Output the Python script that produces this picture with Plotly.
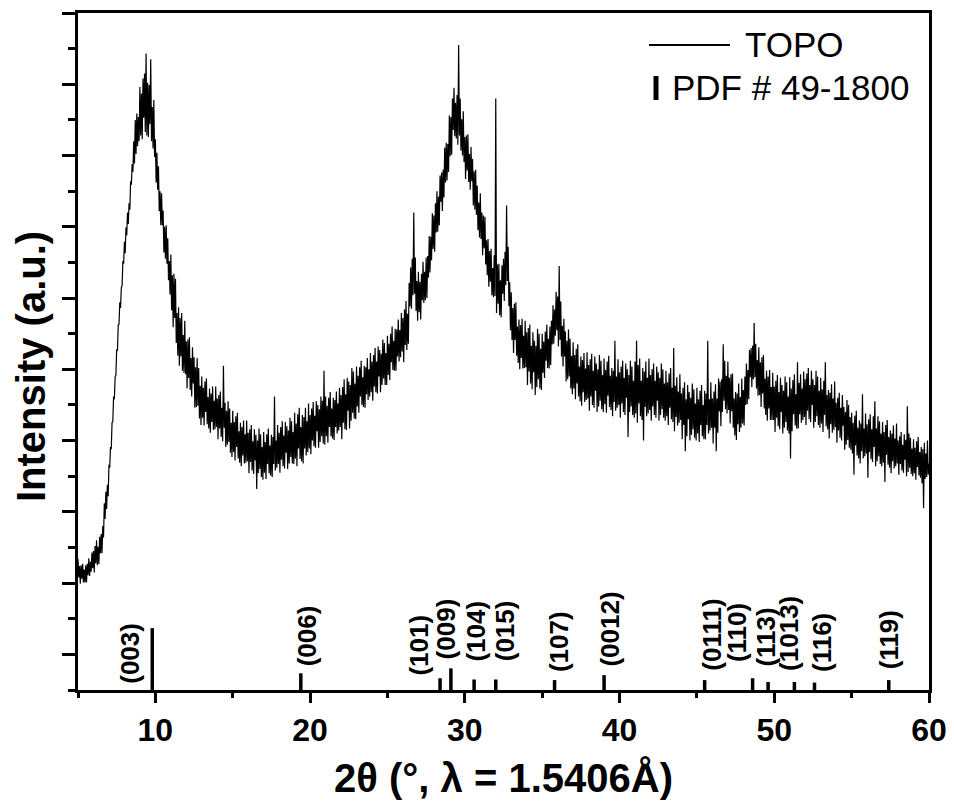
import plotly.graph_objects as go

# ---------------- data ----------------
two_theta = [
    5.00, 5.05, 5.10, 5.15, 5.20, 5.25, 5.30, 5.35, 5.40, 5.45, 5.50, 5.55, 5.60, 5.65, 5.70, 5.75, 5.80, 5.85, 5.90, 5.95,
    6.00, 6.05, 6.10, 6.15, 6.20, 6.25, 6.30, 6.35, 6.40, 6.45, 6.50, 6.55, 6.60, 6.65, 6.70, 6.75, 6.80, 6.85, 6.90, 6.95,
    7.00, 7.05, 7.10, 7.15, 7.20, 7.25, 7.30, 7.35, 7.40, 7.45, 7.50, 7.55, 7.60, 7.65, 7.70, 7.75, 7.80, 7.85, 7.90, 7.95,
    8.00, 8.05, 8.10, 8.15, 8.20, 8.25, 8.30, 8.35, 8.40, 8.45, 8.50, 8.55, 8.60, 8.65, 8.70, 8.75, 8.80, 8.85, 8.90, 8.95,
    9.00, 9.05, 9.10, 9.15, 9.20, 9.25, 9.30, 9.35, 9.40, 9.45, 9.50, 9.55, 9.60, 9.65, 9.70, 9.75, 9.80, 9.85, 9.90, 9.95,
    10.00, 10.05, 10.10, 10.15, 10.20, 10.25, 10.30, 10.35, 10.40, 10.45, 10.50, 10.55, 10.60, 10.65, 10.70, 10.75, 10.80, 10.85, 10.90, 10.95,
    11.00, 11.05, 11.10, 11.15, 11.20, 11.25, 11.30, 11.35, 11.40, 11.45, 11.50, 11.55, 11.60, 11.65, 11.70, 11.75, 11.80, 11.85, 11.90, 11.95,
    12.00, 12.05, 12.10, 12.15, 12.20, 12.25, 12.30, 12.35, 12.40, 12.45, 12.50, 12.55, 12.60, 12.65, 12.70, 12.75, 12.80, 12.85, 12.90, 12.95,
    13.00, 13.05, 13.10, 13.15, 13.20, 13.25, 13.30, 13.35, 13.40, 13.45, 13.50, 13.55, 13.60, 13.65, 13.70, 13.75, 13.80, 13.85, 13.90, 13.95,
    14.00, 14.05, 14.10, 14.15, 14.20, 14.25, 14.30, 14.35, 14.40, 14.45, 14.50, 14.55, 14.60, 14.65, 14.70, 14.75, 14.80, 14.85, 14.90, 14.95,
    15.00, 15.05, 15.10, 15.15, 15.20, 15.25, 15.30, 15.35, 15.40, 15.45, 15.50, 15.55, 15.60, 15.65, 15.70, 15.75, 15.80, 15.85, 15.90, 15.95,
    16.00, 16.05, 16.10, 16.15, 16.20, 16.25, 16.30, 16.35, 16.40, 16.45, 16.50, 16.55, 16.60, 16.65, 16.70, 16.75, 16.80, 16.85, 16.90, 16.95,
    17.00, 17.05, 17.10, 17.15, 17.20, 17.25, 17.30, 17.35, 17.40, 17.45, 17.50, 17.55, 17.60, 17.65, 17.70, 17.75, 17.80, 17.85, 17.90, 17.95,
    18.00, 18.05, 18.10, 18.15, 18.20, 18.25, 18.30, 18.35, 18.40, 18.45, 18.50, 18.55, 18.60, 18.65, 18.70, 18.75, 18.80, 18.85, 18.90, 18.95,
    19.00, 19.05, 19.10, 19.15, 19.20, 19.25, 19.30, 19.35, 19.40, 19.45, 19.50, 19.55, 19.60, 19.65, 19.70, 19.75, 19.80, 19.85, 19.90, 19.95,
    20.00, 20.05, 20.10, 20.15, 20.20, 20.25, 20.30, 20.35, 20.40, 20.45, 20.50, 20.55, 20.60, 20.65, 20.70, 20.75, 20.80, 20.85, 20.90, 20.95,
    21.00, 21.05, 21.10, 21.15, 21.20, 21.25, 21.30, 21.35, 21.40, 21.45, 21.50, 21.55, 21.60, 21.65, 21.70, 21.75, 21.80, 21.85, 21.90, 21.95,
    22.00, 22.05, 22.10, 22.15, 22.20, 22.25, 22.30, 22.35, 22.40, 22.45, 22.50, 22.55, 22.60, 22.65, 22.70, 22.75, 22.80, 22.85, 22.90, 22.95,
    23.00, 23.05, 23.10, 23.15, 23.20, 23.25, 23.30, 23.35, 23.40, 23.45, 23.50, 23.55, 23.60, 23.65, 23.70, 23.75, 23.80, 23.85, 23.90, 23.95,
    24.00, 24.05, 24.10, 24.15, 24.20, 24.25, 24.30, 24.35, 24.40, 24.45, 24.50, 24.55, 24.60, 24.65, 24.70, 24.75, 24.80, 24.85, 24.90, 24.95,
    25.00, 25.05, 25.10, 25.15, 25.20, 25.25, 25.30, 25.35, 25.40, 25.45, 25.50, 25.55, 25.60, 25.65, 25.70, 25.75, 25.80, 25.85, 25.90, 25.95,
    26.00, 26.05, 26.10, 26.15, 26.20, 26.25, 26.30, 26.35, 26.40, 26.45, 26.50, 26.55, 26.60, 26.65, 26.70, 26.75, 26.80, 26.85, 26.90, 26.95,
    27.00, 27.05, 27.10, 27.15, 27.20, 27.25, 27.30, 27.35, 27.40, 27.45, 27.50, 27.55, 27.60, 27.65, 27.70, 27.75, 27.80, 27.85, 27.90, 27.95,
    28.00, 28.05, 28.10, 28.15, 28.20, 28.25, 28.30, 28.35, 28.40, 28.45, 28.50, 28.55, 28.60, 28.65, 28.70, 28.75, 28.80, 28.85, 28.90, 28.95,
    29.00, 29.05, 29.10, 29.15, 29.20, 29.25, 29.30, 29.35, 29.40, 29.45, 29.50, 29.55, 29.60, 29.65, 29.70, 29.75, 29.80, 29.85, 29.90, 29.95,
    30.00, 30.05, 30.10, 30.15, 30.20, 30.25, 30.30, 30.35, 30.40, 30.45, 30.50, 30.55, 30.60, 30.65, 30.70, 30.75, 30.80, 30.85, 30.90, 30.95,
    31.00, 31.05, 31.10, 31.15, 31.20, 31.25, 31.30, 31.35, 31.40, 31.45, 31.50, 31.55, 31.60, 31.65, 31.70, 31.75, 31.80, 31.85, 31.90, 31.95,
    32.00, 32.05, 32.10, 32.15, 32.20, 32.25, 32.30, 32.35, 32.40, 32.45, 32.50, 32.55, 32.60, 32.65, 32.70, 32.75, 32.80, 32.85, 32.90, 32.95,
    33.00, 33.05, 33.10, 33.15, 33.20, 33.25, 33.30, 33.35, 33.40, 33.45, 33.50, 33.55, 33.60, 33.65, 33.70, 33.75, 33.80, 33.85, 33.90, 33.95,
    34.00, 34.05, 34.10, 34.15, 34.20, 34.25, 34.30, 34.35, 34.40, 34.45, 34.50, 34.55, 34.60, 34.65, 34.70, 34.75, 34.80, 34.85, 34.90, 34.95,
    35.00, 35.05, 35.10, 35.15, 35.20, 35.25, 35.30, 35.35, 35.40, 35.45, 35.50, 35.55, 35.60, 35.65, 35.70, 35.75, 35.80, 35.85, 35.90, 35.95,
    36.00, 36.05, 36.10, 36.15, 36.20, 36.25, 36.30, 36.35, 36.40, 36.45, 36.50, 36.55, 36.60, 36.65, 36.70, 36.75, 36.80, 36.85, 36.90, 36.95,
    37.00, 37.05, 37.10, 37.15, 37.20, 37.25, 37.30, 37.35, 37.40, 37.45, 37.50, 37.55, 37.60, 37.65, 37.70, 37.75, 37.80, 37.85, 37.90, 37.95,
    38.00, 38.05, 38.10, 38.15, 38.20, 38.25, 38.30, 38.35, 38.40, 38.45, 38.50, 38.55, 38.60, 38.65, 38.70, 38.75, 38.80, 38.85, 38.90, 38.95,
    39.00, 39.05, 39.10, 39.15, 39.20, 39.25, 39.30, 39.35, 39.40, 39.45, 39.50, 39.55, 39.60, 39.65, 39.70, 39.75, 39.80, 39.85, 39.90, 39.95,
    40.00, 40.05, 40.10, 40.15, 40.20, 40.25, 40.30, 40.35, 40.40, 40.45, 40.50, 40.55, 40.60, 40.65, 40.70, 40.75, 40.80, 40.85, 40.90, 40.95,
    41.00, 41.05, 41.10, 41.15, 41.20, 41.25, 41.30, 41.35, 41.40, 41.45, 41.50, 41.55, 41.60, 41.65, 41.70, 41.75, 41.80, 41.85, 41.90, 41.95,
    42.00, 42.05, 42.10, 42.15, 42.20, 42.25, 42.30, 42.35, 42.40, 42.45, 42.50, 42.55, 42.60, 42.65, 42.70, 42.75, 42.80, 42.85, 42.90, 42.95,
    43.00, 43.05, 43.10, 43.15, 43.20, 43.25, 43.30, 43.35, 43.40, 43.45, 43.50, 43.55, 43.60, 43.65, 43.70, 43.75, 43.80, 43.85, 43.90, 43.95,
    44.00, 44.05, 44.10, 44.15, 44.20, 44.25, 44.30, 44.35, 44.40, 44.45, 44.50, 44.55, 44.60, 44.65, 44.70, 44.75, 44.80, 44.85, 44.90, 44.95,
    45.00, 45.05, 45.10, 45.15, 45.20, 45.25, 45.30, 45.35, 45.40, 45.45, 45.50, 45.55, 45.60, 45.65, 45.70, 45.75, 45.80, 45.85, 45.90, 45.95,
    46.00, 46.05, 46.10, 46.15, 46.20, 46.25, 46.30, 46.35, 46.40, 46.45, 46.50, 46.55, 46.60, 46.65, 46.70, 46.75, 46.80, 46.85, 46.90, 46.95,
    47.00, 47.05, 47.10, 47.15, 47.20, 47.25, 47.30, 47.35, 47.40, 47.45, 47.50, 47.55, 47.60, 47.65, 47.70, 47.75, 47.80, 47.85, 47.90, 47.95,
    48.00, 48.05, 48.10, 48.15, 48.20, 48.25, 48.30, 48.35, 48.40, 48.45, 48.50, 48.55, 48.60, 48.65, 48.70, 48.75, 48.80, 48.85, 48.90, 48.95,
    49.00, 49.05, 49.10, 49.15, 49.20, 49.25, 49.30, 49.35, 49.40, 49.45, 49.50, 49.55, 49.60, 49.65, 49.70, 49.75, 49.80, 49.85, 49.90, 49.95,
    50.00, 50.05, 50.10, 50.15, 50.20, 50.25, 50.30, 50.35, 50.40, 50.45, 50.50, 50.55, 50.60, 50.65, 50.70, 50.75, 50.80, 50.85, 50.90, 50.95,
    51.00, 51.05, 51.10, 51.15, 51.20, 51.25, 51.30, 51.35, 51.40, 51.45, 51.50, 51.55, 51.60, 51.65, 51.70, 51.75, 51.80, 51.85, 51.90, 51.95,
    52.00, 52.05, 52.10, 52.15, 52.20, 52.25, 52.30, 52.35, 52.40, 52.45, 52.50, 52.55, 52.60, 52.65, 52.70, 52.75, 52.80, 52.85, 52.90, 52.95,
    53.00, 53.05, 53.10, 53.15, 53.20, 53.25, 53.30, 53.35, 53.40, 53.45, 53.50, 53.55, 53.60, 53.65, 53.70, 53.75, 53.80, 53.85, 53.90, 53.95,
    54.00, 54.05, 54.10, 54.15, 54.20, 54.25, 54.30, 54.35, 54.40, 54.45, 54.50, 54.55, 54.60, 54.65, 54.70, 54.75, 54.80, 54.85, 54.90, 54.95,
    55.00, 55.05, 55.10, 55.15, 55.20, 55.25, 55.30, 55.35, 55.40, 55.45, 55.50, 55.55, 55.60, 55.65, 55.70, 55.75, 55.80, 55.85, 55.90, 55.95,
    56.00, 56.05, 56.10, 56.15, 56.20, 56.25, 56.30, 56.35, 56.40, 56.45, 56.50, 56.55, 56.60, 56.65, 56.70, 56.75, 56.80, 56.85, 56.90, 56.95,
    57.00, 57.05, 57.10, 57.15, 57.20, 57.25, 57.30, 57.35, 57.40, 57.45, 57.50, 57.55, 57.60, 57.65, 57.70, 57.75, 57.80, 57.85, 57.90, 57.95,
    58.00, 58.05, 58.10, 58.15, 58.20, 58.25, 58.30, 58.35, 58.40, 58.45, 58.50, 58.55, 58.60, 58.65, 58.70, 58.75, 58.80, 58.85, 58.90, 58.95,
    59.00, 59.05, 59.10, 59.15, 59.20, 59.25, 59.30, 59.35, 59.40, 59.45, 59.50, 59.55, 59.60, 59.65, 59.70, 59.75, 59.80, 59.85, 59.90, 59.95,
    60.00,
]

topo_intensity = [
    1.34, 1.08, 1.24, 0.99, 1.25, 1.06, 1.27, 1.01, 1.19, 1.01, 1.25, 1.01, 1.27, 1.11, 1.35, 1.10, 1.30, 1.16, 1.43, 1.21,
    1.45, 1.15, 1.52, 1.28, 1.60, 1.25, 1.51, 1.27, 1.65, 1.42, 1.69, 1.42, 1.80, 1.64, 2.12, 1.90, 2.28, 2.04, 2.38, 2.22,
    2.66, 2.62, 2.91, 2.88, 3.25, 3.27, 3.62, 3.58, 3.89, 3.92, 4.28, 4.26, 4.62, 4.63, 4.94, 4.86, 5.15, 5.17, 5.52, 5.48,
    5.79, 5.63, 5.99, 5.88, 6.20, 6.04, 6.33, 6.24, 6.64, 6.59, 6.88, 6.77, 7.20, 6.89, 7.50, 7.02, 7.59, 7.13, 7.54, 7.20,
    7.96, 7.28, 7.87, 7.23, 8.08, 7.53, 8.15, 7.33, 8.43, 7.28, 8.02, 7.26, 7.99, 7.44, 8.35, 7.20, 7.68, 7.10, 7.78, 6.98,
    7.23, 6.62, 7.04, 6.52, 6.85, 6.22, 6.50, 6.02, 6.47, 6.02, 6.23, 5.64, 6.00, 5.55, 6.02, 5.48, 5.84, 5.25, 5.52, 5.05,
    5.61, 4.83, 5.32, 4.59, 5.34, 4.72, 5.27, 4.37, 4.79, 4.19, 4.87, 4.05, 4.72, 4.18, 4.79, 3.98, 4.48, 3.95, 4.68, 3.93,
    4.39, 3.73, 4.42, 3.88, 4.45, 3.71, 4.16, 3.62, 4.31, 3.80, 4.17, 3.46, 4.03, 3.47, 4.16, 3.49, 4.02, 3.31, 3.77, 3.22,
    3.90, 3.32, 3.74, 3.21, 3.83, 3.40, 3.87, 3.23, 3.61, 3.17, 3.73, 3.11, 3.66, 3.26, 3.76, 3.15, 3.56, 3.16, 3.76, 3.19,
    3.59, 3.02, 3.64, 3.17, 3.69, 3.05, 3.46, 2.99, 4.05, 3.18, 3.53, 2.91, 3.42, 2.94, 3.55, 2.98, 3.45, 2.83, 3.25, 2.77,
    3.42, 2.84, 3.26, 2.72, 3.34, 2.91, 3.39, 2.75, 3.13, 2.69, 3.25, 2.64, 3.19, 2.79, 3.28, 2.68, 3.09, 2.69, 3.28, 2.71,
    3.11, 2.54, 3.16, 2.70, 3.22, 2.58, 2.99, 2.53, 3.16, 2.72, 3.08, 2.32, 3.00, 2.54, 3.17, 2.60, 3.09, 2.49, 2.91, 2.45,
    3.12, 2.55, 2.98, 2.46, 3.09, 2.67, 3.17, 2.54, 2.93, 2.51, 3.08, 2.49, 3.05, 2.67, 3.62, 2.58, 3.00, 2.62, 3.22, 2.67,
    3.11, 2.55, 3.19, 2.73, 3.27, 2.64, 3.07, 2.61, 3.26, 2.83, 3.20, 2.60, 3.14, 2.68, 3.32, 2.77, 3.27, 2.68, 3.12, 2.67,
    3.39, 2.75, 3.24, 2.64, 3.37, 2.89, 3.46, 2.74, 3.19, 2.71, 3.36, 2.68, 3.33, 2.89, 3.46, 2.79, 3.27, 2.84, 3.52, 2.89,
    3.36, 2.81, 3.45, 3.00, 3.54, 2.92, 3.35, 2.90, 3.55, 3.13, 3.50, 2.90, 3.44, 2.98, 3.62, 3.06, 3.56, 2.96, 3.98, 2.94,
    3.62, 3.06, 3.49, 2.97, 3.60, 3.19, 3.68, 3.06, 3.45, 3.03, 3.60, 3.01, 3.57, 3.19, 3.69, 3.10, 3.52, 3.14, 3.74, 3.19,
    3.64, 3.02, 3.75, 3.25, 3.86, 3.16, 3.65, 3.15, 3.88, 3.42, 3.83, 3.17, 3.78, 3.28, 4.02, 3.39, 3.97, 3.31, 3.80, 3.30,
    4.04, 3.48, 3.91, 3.39, 4.03, 3.62, 4.12, 3.50, 3.89, 3.47, 4.05, 3.46, 4.03, 3.65, 4.16, 3.57, 4.00, 3.62, 4.23, 3.68,
    4.11, 3.56, 4.20, 3.76, 4.30, 3.68, 4.11, 3.66, 4.32, 3.90, 4.27, 3.68, 4.22, 3.78, 4.42, 3.87, 4.37, 3.78, 4.23, 3.78,
    4.47, 3.92, 4.36, 3.85, 4.50, 4.10, 4.60, 3.99, 4.40, 3.98, 4.57, 3.98, 4.56, 4.18, 4.70, 4.11, 4.55, 4.17, 4.79, 4.25,
    4.72, 4.10, 4.84, 4.34, 4.96, 4.27, 4.78, 4.36, 5.21, 4.88, 5.43, 4.85, 5.55, 5.04, 6.20, 5.06, 5.57, 4.82, 5.24, 4.68,
    5.37, 4.80, 5.23, 4.70, 5.34, 4.97, 5.51, 4.93, 5.37, 4.97, 5.57, 5.00, 5.59, 5.29, 5.87, 5.36, 5.86, 5.53, 6.19, 5.69,
    6.16, 5.65, 6.33, 5.92, 6.50, 5.93, 6.42, 6.02, 6.72, 6.35, 6.76, 6.22, 6.80, 6.41, 7.11, 6.62, 7.18, 6.65, 7.16, 6.77,
    7.56, 6.99, 7.54, 7.01, 7.80, 7.36, 7.95, 7.27, 7.74, 7.24, 7.85, 7.15, 8.55, 7.28, 7.80, 7.07, 7.51, 7.00, 7.62, 6.91,
    7.26, 6.67, 7.28, 6.79, 7.30, 6.63, 7.02, 6.52, 7.12, 6.64, 6.95, 6.30, 6.78, 6.24, 6.80, 6.17, 6.58, 5.95, 6.34, 5.85,
    6.47, 5.83, 6.20, 5.60, 6.16, 5.70, 6.14, 5.47, 5.81, 5.32, 5.83, 5.16, 5.66, 5.23, 5.69, 5.04, 5.42, 5.01, 5.60, 5.03,
    7.80, 4.79, 5.47, 4.92, 5.48, 4.76, 5.25, 4.73, 5.46, 5.06, 5.55, 4.96, 5.65, 5.18, 6.30, 5.24, 5.72, 4.89, 5.22, 4.55,
    5.08, 4.41, 4.86, 4.23, 4.92, 4.41, 4.94, 4.19, 4.60, 4.09, 4.70, 4.00, 4.62, 4.16, 4.71, 4.01, 4.47, 4.02, 4.68, 4.03,
    4.52, 3.78, 4.58, 3.97, 4.63, 3.80, 4.33, 3.72, 4.52, 3.96, 4.40, 3.64, 4.33, 3.75, 4.57, 3.86, 4.50, 3.73, 4.29, 3.71,
    4.50, 3.95, 4.39, 3.88, 4.53, 4.12, 4.63, 4.02, 4.43, 4.01, 4.60, 4.06, 4.68, 4.35, 4.90, 4.36, 4.84, 4.47, 5.09, 4.55,
    5.02, 4.32, 5.45, 4.41, 4.95, 4.18, 4.61, 4.04, 4.71, 4.18, 4.53, 3.83, 4.40, 3.86, 4.56, 3.90, 4.43, 3.73, 4.19, 3.65,
    4.38, 3.73, 4.20, 3.58, 4.29, 3.80, 4.35, 3.62, 4.04, 3.55, 4.18, 3.49, 4.13, 3.68, 4.23, 3.54, 4.01, 3.57, 4.24, 3.59,
    4.06, 3.42, 4.14, 3.62, 4.22, 3.50, 3.98, 3.46, 4.18, 3.70, 4.08, 3.40, 4.00, 3.48, 4.20, 3.56, 4.12, 3.44, 3.92, 3.40,
    4.15, 3.51, 3.99, 3.39, 4.11, 3.63, 4.19, 3.47, 3.91, 3.43, 4.02, 3.34, 3.98, 3.54, 4.40, 3.42, 3.90, 3.46, 4.14, 3.50,
    3.96, 3.32, 4.04, 3.52, 4.12, 3.40, 3.88, 3.36, 4.08, 3.60, 4.00, 3.05, 3.92, 3.40, 4.12, 3.48, 4.04, 3.36, 3.84, 3.32,
    4.11, 3.38, 4.40, 3.25, 4.06, 3.52, 4.15, 3.34, 3.84, 3.29, 4.02, 3.00, 3.97, 3.47, 4.11, 3.34, 3.88, 3.38, 4.15, 3.43,
    3.92, 3.28, 4.00, 3.48, 4.08, 3.36, 3.84, 3.32, 4.04, 3.56, 3.96, 3.28, 3.88, 3.36, 4.08, 3.44, 4.00, 3.32, 3.80, 3.28,
    3.98, 3.34, 3.82, 3.22, 3.94, 3.46, 4.02, 3.30, 3.74, 3.26, 4.30, 3.13, 3.77, 3.33, 3.89, 3.21, 3.69, 3.25, 3.93, 3.29,
    3.66, 3.02, 3.74, 3.22, 3.82, 2.85, 3.58, 3.06, 3.78, 3.30, 3.68, 3.00, 3.60, 3.08, 3.80, 3.16, 3.72, 3.04, 3.52, 3.00,
    3.74, 3.10, 3.58, 2.98, 3.70, 3.22, 3.78, 3.06, 3.50, 3.02, 3.70, 3.02, 3.66, 3.22, 4.40, 3.10, 3.58, 3.14, 3.82, 3.18,
    3.59, 2.96, 3.69, 3.18, 3.79, 2.85, 3.59, 3.11, 3.87, 3.41, 3.83, 3.20, 3.86, 3.40, 4.35, 3.56, 4.12, 3.44, 3.91, 3.38,
    4.11, 3.43, 3.88, 3.24, 3.93, 3.41, 3.94, 3.18, 3.59, 3.07, 3.68, 3.01, 3.66, 3.23, 3.80, 3.12, 3.61, 3.18, 3.87, 3.24,
    3.71, 3.21, 3.90, 3.50, 4.08, 3.51, 3.99, 3.58, 4.27, 3.89, 4.30, 3.75, 4.33, 3.86, 4.65, 3.89, 4.36, 3.73, 4.13, 3.63,
    4.31, 3.64, 4.10, 3.47, 4.17, 3.66, 4.20, 3.45, 3.87, 3.36, 3.98, 3.28, 3.90, 3.45, 3.99, 3.29, 3.75, 3.29, 3.95, 3.29,
    3.76, 3.12, 3.84, 3.32, 3.92, 3.20, 3.68, 3.16, 3.88, 3.40, 3.78, 3.10, 3.70, 3.18, 3.90, 3.26, 3.82, 3.14, 3.62, 3.10,
    3.89, 2.75, 3.73, 3.13, 3.85, 3.37, 3.93, 3.21, 3.65, 3.17, 4.10, 3.17, 3.81, 3.37, 3.93, 3.25, 3.73, 3.29, 3.97, 3.33,
    3.86, 3.22, 3.94, 3.42, 4.02, 3.30, 3.78, 3.26, 3.98, 3.50, 3.86, 3.18, 3.78, 3.26, 3.98, 3.34, 3.90, 3.22, 3.70, 3.18,
    3.88, 3.24, 3.72, 3.12, 3.84, 3.36, 4.10, 3.20, 3.64, 3.16, 3.71, 3.03, 3.67, 3.23, 3.79, 3.11, 3.59, 3.15, 3.83, 3.19,
    3.53, 2.97, 3.60, 3.14, 3.67, 3.04, 3.46, 3.00, 3.64, 3.21, 3.47, 2.87, 3.40, 2.94, 3.57, 3.01, 3.50, 2.90, 3.33, 2.87,
    3.39, 2.82, 3.25, 2.52, 3.35, 2.93, 3.42, 2.79, 3.18, 2.75, 3.28, 2.68, 3.24, 2.85, 3.65, 2.75, 3.17, 2.78, 3.38, 2.82,
    3.23, 2.48, 3.30, 2.84, 3.37, 2.74, 3.16, 2.70, 3.34, 2.91, 3.55, 2.64, 3.17, 2.71, 3.34, 2.78, 3.27, 2.67, 3.10, 2.64,
    3.26, 2.69, 3.12, 2.42, 3.22, 2.80, 3.29, 2.66, 3.05, 2.62, 3.14, 2.54, 3.10, 2.71, 3.21, 2.61, 3.03, 2.64, 3.24, 2.68,
    3.00, 2.52, 3.06, 2.67, 3.12, 2.58, 2.94, 2.55, 3.09, 2.73, 3.01, 2.50, 3.48, 2.56, 3.10, 2.62, 3.04, 2.53, 2.89, 2.50,
    3.02, 2.54, 2.90, 2.45, 2.99, 2.63, 3.05, 2.51, 2.84, 2.48, 2.91, 2.40, 2.88, 2.05, 2.97, 2.46, 2.82, 2.49, 3.00, 2.52,
    2.68,
]
assert len(two_theta) == len(topo_intensity), (len(two_theta), len(topo_intensity))

pdf_hkl = ["(003)", "(006)", "(101)", "(009)", "(104)", "(015)", "(107)",
           "(0012)", "(0111)", "(110)", "(113)", "(1013)", "(116)", "(119)"]
pdf_two_theta = [9.8, 19.4, 28.4, 29.1, 30.6, 32.0, 35.8,
                 39.0, 45.5, 48.6, 49.6, 51.3, 52.6, 57.4]
pdf_rel_intensity = [100, 27, 19, 35, 17, 17, 16,
                     24, 16, 19, 13, 13, 12, 16]

legend_names = ["TOPO", "PDF # 49-1800"]
x_title = "2θ (°, λ = 1.5406Å)"
y_title = "Intensity (a.u.)"

# ---------------- layout / style settings ----------------
# the page body adds an 8 px margin, so the figure is 16 px smaller than the window
OFF = 8
W, H = 954 - 2 * OFF, 808 - 2 * OFF
ML, MR, MT, MB = 70, 17, 5, 110
X_RANGE = [5, 60]
Y_RANGE = [-0.5, 9]
BAR_UNITS_PER_PCT = 0.868 / 100.0
FONT = "Liberation Sans, Arial, sans-serif"

# per-label pixel offsets for the hkl labels
label_dx = [-23, 6, -22, -5, 1, 9, 4, 5, 7, -16, -3, -6, 7, 0]
label_dy = [5, 23, 13, 30, 27, 28, 17, 22, 18, 27, 22, 18, 17, 20]


def paper(sx, sy):
    """screen pixel -> paper coordinates"""
    fx, fy = sx - OFF, sy - OFF
    pw = W - ML - MR
    ph = H - MT - MB
    return (fx - ML) / pw, (H - MB - fy) / ph


fig = go.Figure()

fig.add_trace(go.Scatter(
    x=two_theta, y=topo_intensity, mode="lines",
    line=dict(color="black", width=1.2),
    name=legend_names[0], showlegend=False,
))

bx, by = [], []
for t, ri in zip(pdf_two_theta, pdf_rel_intensity):
    bx += [t, t, None]
    by += [Y_RANGE[0], Y_RANGE[0] + ri * BAR_UNITS_PER_PCT, None]
fig.add_trace(go.Scatter(
    x=bx, y=by, mode="lines",
    line=dict(color="black", width=3.5),
    name=legend_names[1], showlegend=False,
))

annotations = []
for lab, t, dx, dy in zip(pdf_hkl, pdf_two_theta, label_dx, label_dy):
    annotations.append(dict(
        x=t, y=Y_RANGE[0], xref="x", yref="y", text=lab, showarrow=False,
        textangle=-90, xanchor="center", yanchor="bottom",
        xshift=dx, yshift=dy, borderpad=0,
        font=dict(family=FONT, size=26, color="black", weight="bold"),
    ))

# y-axis title
ytx, yty = paper(31, 367)
annotations.append(dict(
    x=ytx, y=yty, xref="paper", yref="paper", text=y_title, showarrow=False,
    textangle=-90, xanchor="center", yanchor="middle",
    font=dict(family=FONT, size=40, color="black", weight="bold"),
))

# manual legend
lx0, ly = paper(649, 45)
lx1, _ = paper(730, 45)
tx, ty = paper(743, 45)
bx0, by0 = paper(656, 100)
_, by1 = paper(656, 76)
px2, py2 = paper(670, 88)

shapes = [
    dict(type="line", xref="paper", yref="paper", x0=lx0, x1=lx1, y0=ly, y1=ly,
         line=dict(color="black", width=2)),
    dict(type="line", xref="paper", yref="paper", x0=bx0, x1=bx0, y0=by0, y1=by1,
         line=dict(color="black", width=5)),
]
annotations.append(dict(x=tx, y=ty, xref="paper", yref="paper", text=legend_names[0],
                        showarrow=False, xanchor="left", yanchor="middle",
                        font=dict(family=FONT, size=35, color="black")))
annotations.append(dict(x=px2, y=py2, xref="paper", yref="paper", text=legend_names[1],
                        showarrow=False, xanchor="left", yanchor="middle",
                        font=dict(family=FONT, size=35, color="black")))

fig.update_layout(
    width=W, height=H,
    margin=dict(l=ML, r=MR, t=MT, b=MB, pad=0),
    paper_bgcolor="white", plot_bgcolor="white",
    showlegend=False,
    annotations=annotations,
    shapes=shapes,
    font=dict(family=FONT, color="black"),
)

fig.update_xaxes(
    range=X_RANGE, showgrid=False, zeroline=False, automargin=False,
    showline=True, linewidth=3, linecolor="black", mirror=True,
    ticks="outside", ticklen=10, tickwidth=3, tickcolor="black",
    tick0=0, dtick=10, ticklabeloverflow="allow",
    tickfont=dict(family=FONT, size=32, color="black", weight="bold"),
    minor=dict(ticks="outside", dtick=5, tick0=0, ticklen=5, tickwidth=3, tickcolor="black"),
    title=dict(text=x_title, standoff=23,
               font=dict(family=FONT, size=40, color="black", weight="bold")),
)
fig.update_yaxes(
    range=Y_RANGE, showgrid=False, zeroline=False, automargin=False,
    showline=True, linewidth=3, linecolor="black", mirror=True,
    ticks="outside", ticklen=13, tickwidth=3, tickcolor="black",
    tick0=0, dtick=1, showticklabels=False,
    minor=dict(ticks="outside", dtick=0.5, tick0=0, ticklen=7, tickwidth=3, tickcolor="black"),
)

fig.write_html("out.html")
